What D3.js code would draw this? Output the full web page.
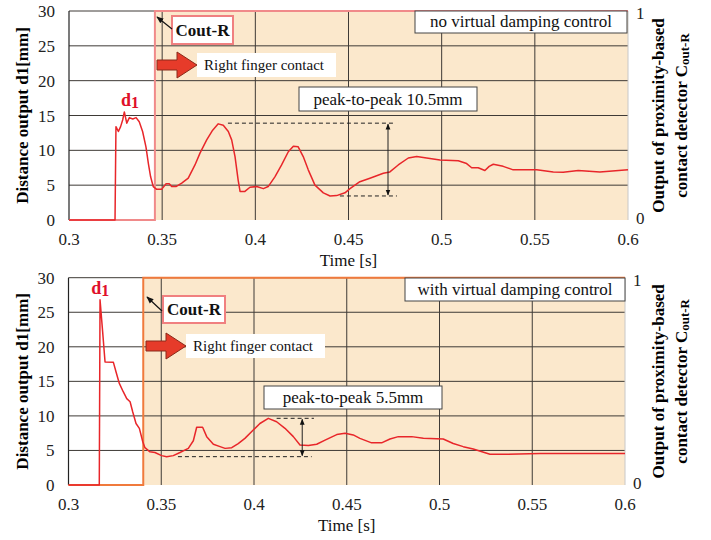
<!DOCTYPE html>
<html>
<head>
<meta charset="utf-8">
<script src="https://cdn.jsdelivr.net/npm/d3@7"></script>
<style>
  html, body { margin: 0; padding: 0; background: #fff; }
  svg { display: block; }
  text { font-family: "Liberation Serif", "Times New Roman", serif; }
</style>
</head>
<body>
<div id="chart"></div>
<script>
// ── Data ──────────────────────────────────────────────────────────────────
const xTicks = [0.3, 0.35, 0.4, 0.45, 0.5, 0.55, 0.6];
const xTickLabels = ["0.3", "0.35", "0.4", "0.45", "0.5", "0.55", "0.6"];
const yTicks = [0, 5, 10, 15, 20, 25, 30];

// no virtual damping control
const topTime = [0.3, 0.3247, 0.3252, 0.3265, 0.3277, 0.3288, 0.3297, 0.3310, 0.3324, 0.3342, 0.3360,
  0.3377, 0.3395, 0.3413, 0.3426, 0.3438, 0.3452, 0.3471, 0.3497, 0.3521, 0.3538, 0.3551, 0.3574,
  0.3605, 0.3640, 0.3676, 0.3703, 0.3739, 0.3771, 0.3801, 0.3828, 0.3855, 0.3873, 0.3891, 0.3908,
  0.3918, 0.3944, 0.3971, 0.4007, 0.4043, 0.4069, 0.4105, 0.4141, 0.4177, 0.4204, 0.4230, 0.4257,
  0.4284, 0.4320, 0.4365, 0.4401, 0.4436, 0.4481, 0.4508, 0.4561, 0.4615, 0.4687, 0.4722, 0.4767,
  0.4821, 0.4866, 0.4919, 0.4991, 0.5089, 0.5134, 0.5161, 0.5196, 0.5232, 0.5255, 0.5277, 0.5330,
  0.5384, 0.5510, 0.5599, 0.5652, 0.5733, 0.5849, 0.6];
const topD1 = [0, 0, 13.4, 12.7, 13.4, 14.35, 15.5, 13.9, 14.7, 14.5, 14.7,
  14.1, 12.7, 10.5, 8.1, 6.2, 4.8, 4.4, 4.4, 5.2, 5.2, 4.8, 4.8,
  5.3, 6.0, 7.9, 9.6, 11.5, 12.9, 13.8, 13.6, 12.7, 11.5, 9.1, 5.7,
  4.1, 4.1, 4.7, 4.8, 4.5, 4.8, 6.2, 7.9, 9.8, 10.6, 10.5, 9.1,
  7.2, 5.0, 3.9, 3.45, 3.5, 3.9, 4.5, 5.5, 6.0, 6.7, 6.9, 7.9,
  8.9, 9.1, 8.9, 8.6, 8.5, 8.1, 7.5, 7.5, 7.1, 7.7, 8.0, 7.7,
  7.2, 7.2, 6.9, 6.85, 7.1, 6.9, 7.2];
const topCoutTime = [0.3, 0.3461, 0.3461, 0.6];
const topCout = [0, 0, 1, 1];

// with virtual damping control
const botTime = [0.3, 0.3166, 0.3170, 0.3184, 0.3197, 0.3242, 0.3256, 0.3274, 0.3295, 0.3314, 0.3332,
  0.3346, 0.3364, 0.3382, 0.3400, 0.3412, 0.3439, 0.3466, 0.3502, 0.3529, 0.3565, 0.3601, 0.3646,
  0.3673, 0.3691, 0.3723, 0.3745, 0.3781, 0.3817, 0.3844, 0.3880, 0.3915, 0.3951, 0.3996, 0.4032,
  0.4077, 0.4122, 0.4167, 0.4212, 0.4248, 0.4293, 0.4338, 0.4383, 0.4446, 0.4491, 0.4535, 0.4571,
  0.4634, 0.4688, 0.4733, 0.4778, 0.4850, 0.4913, 0.5020, 0.5074, 0.5128, 0.5182, 0.5272, 0.5362,
  0.5542, 0.5721, 0.6];
const botD1 = [0, 0, 26.8, 22.2, 17.8, 17.75, 16.4, 14.7, 13.5, 12.5, 12.05,
  10.6, 8.9, 8.2, 6.3, 5.4, 4.8, 4.7, 4.25, 4.1, 4.25, 4.7, 5.3,
  6.4, 8.35, 8.35, 7.0, 5.9, 5.55, 5.3, 5.4, 6.0, 6.75, 7.95, 8.9,
  9.65, 9.15, 8.2, 7.0, 5.8, 5.7, 5.9, 6.5, 7.3, 7.5, 7.25, 6.75,
  6.1, 6.1, 6.65, 7.0, 7.0, 6.75, 6.65, 6.0, 5.55, 5.2, 4.45, 4.45,
  4.55, 4.55, 4.55];
const botCoutTime = [0.3, 0.3403, 0.3403, 0.6];
const botCout = [0, 0, 1, 1];

// ── Styles ────────────────────────────────────────────────────────────────
const W = 711, H = 540;
const shadeFill = "#fbe8cc";
const gridColor = "#3e3a36";
const d1Color = "#e8262a";
const arrowFill = "#e63b2a";

const svg = d3.select("#chart").append("svg")
  .attr("width", W).attr("height", H);

const panels = [
  {
    left: 69, right: 628, top: 11, bottom: 220,
    time: topTime, d1: topD1, coutTime: topCoutTime, cout: topCout,
    coutColor: "#f08a8a",
    title: "no virtual damping control", titleBox: [415, 627, 11, 33],
    coutBox: [172, 233, 16, 44], coutArrow: [172, 29, 157, 17],
    fingerArrow: [157, 52], fingerBox: [197, 336, 53, 77],
    d1Label: [0.3279, 16.4],
    p2pText: "peak-to-peak 10.5mm", p2pBox: [299, 477, 87, 111],
    p2pHi: { v: 13.9, x0: 0.3853, x1: 0.4739 },
    p2pLo: { v: 3.45, x0: 0.4454, x1: 0.4760 },
    p2pArrowX: 0.4712
  },
  {
    left: 68.5, right: 625, top: 277.7, bottom: 485,
    time: botTime, d1: botD1, coutTime: botCoutTime, cout: botCout,
    coutColor: "#f07a3c",
    title: "with virtual damping control", titleBox: [405, 625, 278, 301],
    coutBox: [163, 225, 296, 323], coutArrow: [162, 311, 147, 297],
    fingerArrow: [146, 333], fingerBox: [186, 325, 334, 358],
    d1Label: [0.3122, 27.6],
    p2pText: "peak-to-peak 5.5mm", p2pBox: [264, 442, 386, 409],
    p2pHi: { v: 9.65, x0: 0.4122, x1: 0.4323 },
    p2pLo: { v: 4.1, x0: 0.3590, x1: 0.4311 },
    p2pArrowX: 0.4260
  }
];

const defs = svg.append("defs");
defs.append("marker")
  .attr("id", "head")
  .attr("viewBox", "0 0 10 10")
  .attr("refX", 9).attr("refY", 5)
  .attr("markerWidth", 6).attr("markerHeight", 6)
  .attr("orient", "auto-start-reverse")
  .append("path").attr("d", "M0,1 L10,5 L0,9 Z").attr("fill", "#111");

panels.forEach(drawPanel);

function drawPanel(p) {
  const x = d3.scaleLinear().domain([0.3, 0.6]).range([p.left, p.right]);
  const y = d3.scaleLinear().domain([0, 30]).range([p.bottom, p.top]);
  const y2 = d3.scaleLinear().domain([0, 1]).range([p.bottom, p.top]);
  const g = svg.append("g");

  // shaded region where Cout-R = 1
  const riseT = p.coutTime[p.cout.indexOf(1)];
  g.append("rect")
    .attr("x", x(riseT)).attr("y", p.top)
    .attr("width", x(0.6) - x(riseT)).attr("height", p.bottom - p.top)
    .attr("fill", shadeFill);

  // grid
  g.selectAll(".hgrid").data(yTicks.slice(1))
    .join("line")
    .attr("x1", p.left).attr("x2", p.right)
    .attr("y1", d => y(d)).attr("y2", d => y(d))
    .attr("stroke", gridColor).attr("stroke-width", 1);
  g.selectAll(".vgrid").data(xTicks.slice(1, -1))
    .join("line")
    .attr("x1", d => x(d)).attr("x2", d => x(d))
    .attr("y1", p.top).attr("y2", p.bottom)
    .attr("stroke", gridColor).attr("stroke-width", 1);
  // frame
  g.append("line")
    .attr("x1", p.left).attr("x2", p.left).attr("y1", p.top).attr("y2", p.bottom)
    .attr("stroke", "#222").attr("stroke-width", 1.2);
  g.append("line")
    .attr("x1", p.right).attr("x2", p.right).attr("y1", p.top).attr("y2", p.bottom)
    .attr("stroke", "#c8c8c8").attr("stroke-width", 1);

  // axis tick labels
  g.selectAll(".ylab").data(yTicks)
    .join("text")
    .attr("x", p.left - 14).attr("y", d => y(d) + 6)
    .attr("text-anchor", "end").attr("font-size", 17).attr("fill", "#222")
    .text(d => d);
  g.selectAll(".xlab").data(xTicks)
    .join("text")
    .attr("x", d => x(d)).attr("y", p.bottom + 25)
    .attr("text-anchor", "middle").attr("font-size", 17).attr("fill", "#222")
    .text((d, i) => xTickLabels[i]);
  g.append("text")
    .attr("x", (p.left + p.right) / 2).attr("y", p.bottom + 46)
    .attr("text-anchor", "middle").attr("font-size", 17).attr("fill", "#111")
    .text("Time [s]");
  g.selectAll(".y2lab").data([0, 1])
    .join("text")
    .attr("x", p.right + 8).attr("y", d => y2(d) + (d ? 8 : 4))
    .attr("font-size", 17).attr("fill", "#222")
    .text(d => d);

  // axis titles
  const cy = (p.top + p.bottom) / 2;
  g.append("text")
    .attr("transform", `translate(28,${cy}) rotate(-90)`)
    .attr("text-anchor", "middle").attr("font-size", 17).attr("font-weight", "bold")
    .text("Distance output d1[mm]");
  g.append("text")
    .attr("transform", `translate(664,${cy}) rotate(-90)`)
    .attr("text-anchor", "middle").attr("font-size", 17).attr("font-weight", "bold")
    .text("Output of proximity-based");
  const t2 = g.append("text")
    .attr("transform", `translate(687,${cy}) rotate(-90)`)
    .attr("text-anchor", "middle").attr("font-size", 17).attr("font-weight", "bold");
  t2.append("tspan").text("contact detector C");
  t2.append("tspan").attr("font-size", 13).attr("dy", 2).text("out-R");

  // Cout-R line (right axis)
  const coutLine = d3.line().x(d => x(d[0])).y(d => y2(d[1]));
  g.append("path")
    .datum(d3.zip(p.coutTime, p.cout))
    .attr("d", coutLine)
    .attr("fill", "none").attr("stroke", p.coutColor).attr("stroke-width", 2);

  // d1 line
  const d1Line = d3.line().x(d => x(d[0])).y(d => y(d[1]));
  g.append("path")
    .datum(d3.zip(p.time, p.d1))
    .attr("d", d1Line)
    .attr("fill", "none").attr("stroke", d1Color).attr("stroke-width", 1.5)
    .attr("stroke-linejoin", "round");

  // d1 label
  const dl = g.append("text")
    .attr("x", x(p.d1Label[0])).attr("y", y(p.d1Label[1]))
    .attr("fill", "#e0102a").attr("font-size", 18).attr("font-weight", "bold");
  dl.append("tspan").text("d");
  dl.append("tspan").attr("dy", 2).attr("font-size", 16).text("1");

  // condition title box
  const [tx0, tx1, ty0, ty1] = p.titleBox;
  g.append("rect")
    .attr("x", tx0).attr("y", ty0).attr("width", tx1 - tx0).attr("height", ty1 - ty0)
    .attr("fill", "#fff").attr("stroke", "#444").attr("stroke-width", 1);
  g.append("text")
    .attr("x", (tx0 + tx1) / 2).attr("y", ty1 - 6)
    .attr("text-anchor", "middle").attr("font-size", 17).attr("fill", "#111")
    .text(p.title);

  // Cout-R box + pointer
  const [cx0, cx1, cy0, cy1] = p.coutBox;
  g.append("rect")
    .attr("x", cx0).attr("y", cy0).attr("width", cx1 - cx0).attr("height", cy1 - cy0)
    .attr("fill", "#fff").attr("stroke", "#f08080").attr("stroke-width", 2);
  g.append("text")
    .attr("x", (cx0 + cx1) / 2).attr("y", cy1 - 8)
    .attr("text-anchor", "middle").attr("font-size", 17).attr("font-weight", "bold")
    .attr("fill", "#111")
    .text("Cout-R");
  const [ax0, ay0, ax1, ay1] = p.coutArrow;
  g.append("line")
    .attr("x1", ax0).attr("y1", ay0).attr("x2", ax1).attr("y2", ay1)
    .attr("stroke", "#111").attr("stroke-width", 1.2)
    .attr("marker-end", "url(#head)");

  // Right finger contact arrow + label
  const [fx, fy] = p.fingerArrow;
  g.append("path")
    .attr("d", `M${fx},${fy + 8} h20 v-8 l20,13 l-20,13 v-8 h-20 Z`)
    .attr("fill", arrowFill).attr("stroke", "#8a2a1a").attr("stroke-width", 1);
  const [bx0, bx1, by0, by1] = p.fingerBox;
  g.append("rect")
    .attr("x", bx0).attr("y", by0).attr("width", bx1 - bx0).attr("height", by1 - by0)
    .attr("fill", "#fff");
  g.append("text")
    .attr("x", bx0 + 7).attr("y", by1 - 7)
    .attr("font-size", 15).attr("fill", "#111")
    .text("Right finger contact");

  // peak-to-peak annotation
  const [px0, px1, py0, py1] = p.p2pBox;
  g.append("rect")
    .attr("x", px0).attr("y", py0).attr("width", px1 - px0).attr("height", py1 - py0)
    .attr("fill", "#fff").attr("stroke", "#444").attr("stroke-width", 1);
  g.append("text")
    .attr("x", (px0 + px1) / 2).attr("y", py1 - 6)
    .attr("text-anchor", "middle").attr("font-size", 17).attr("fill", "#111")
    .text(p.p2pText);
  [p.p2pHi, p.p2pLo].forEach(h => {
    g.append("line")
      .attr("x1", x(h.x0)).attr("x2", x(h.x1))
      .attr("y1", y(h.v)).attr("y2", y(h.v))
      .attr("stroke", "#222").attr("stroke-width", 1)
      .attr("stroke-dasharray", "4,3");
  });
  g.append("line")
    .attr("x1", x(p.p2pArrowX)).attr("x2", x(p.p2pArrowX))
    .attr("y1", y(p.p2pHi.v) + 1).attr("y2", y(p.p2pLo.v) - 1)
    .attr("stroke", "#222").attr("stroke-width", 1)
    .attr("marker-start", "url(#head)").attr("marker-end", "url(#head)");
}
</script>
</body>
</html>
